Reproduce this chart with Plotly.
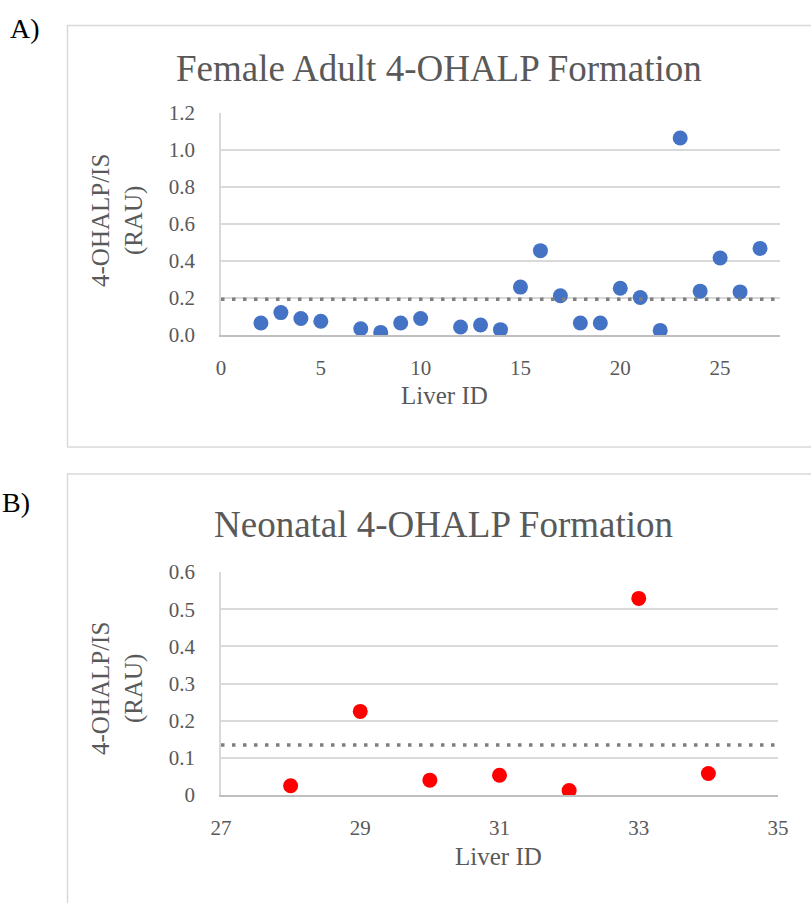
import plotly.graph_objects as go

# ---- data ----
adult_ids = [2, 3, 4, 5, 7, 8, 9, 10, 12, 13, 14, 15, 16, 17, 18, 19, 20, 21, 22, 23, 24, 25, 26, 27]
adult_vals = [0.065, 0.121, 0.089, 0.074, 0.034, 0.014, 0.065, 0.089, 0.043, 0.054, 0.029, 0.259,
              0.456, 0.212, 0.065, 0.065, 0.253, 0.203, 0.025, 1.065, 0.237, 0.416, 0.233, 0.468]

neo_ids = [28, 29, 30, 31, 32, 33, 34]
neo_vals = [0.025, 0.225, 0.040, 0.053, 0.012, 0.529, 0.058]

adult_xticks = [0, 5, 10, 15, 20, 25]
adult_yticks = [0.0, 0.2, 0.4, 0.6, 0.8, 1.0, 1.2]
neo_xticks = [27, 29, 31, 33, 35]
neo_yticks = [0, 0.1, 0.2, 0.3, 0.4, 0.5, 0.6]

adult_title = "Female Adult 4-OHALP Formation"
neo_title = "Neonatal 4-OHALP Formation"
x_title = "Liver ID"
y_title = "4-OHALP/IS<br>(RAU)"

adult_mean = sum(adult_vals) / len(adult_vals)
neo_mean = sum(neo_vals) / len(neo_vals)

# ---- page geometry (pixels) ----
W, H = 811, 903


def px(x):
    return x / W


def py(y):
    return 1 - y / H


FONT = "Liberation Serif, Times New Roman, serif"
GREY = "#595959"
GRID = "#d9d9d9"
AXLINE = "#bfbfbf"

fig = go.Figure()

# Female adult panel
fig.add_trace(go.Scatter(x=adult_ids, y=adult_vals, mode="markers",
                         marker=dict(color="#4472C4", size=15), xaxis="x", yaxis="y"))
fig.add_trace(go.Scatter(x=[0, 28], y=[adult_mean, adult_mean], mode="lines",
                         line=dict(color="#7f7f7f", width=3.5, dash="3.5px,7.5px"),
                         xaxis="x", yaxis="y"))

# Neonatal panel
fig.add_trace(go.Scatter(x=neo_ids, y=neo_vals, mode="markers",
                         marker=dict(color="#FF0000", size=15), xaxis="x2", yaxis="y2"))
fig.add_trace(go.Scatter(x=[27, 35], y=[neo_mean, neo_mean], mode="lines",
                         line=dict(color="#7f7f7f", width=3.5, dash="3.5px,7.5px"),
                         xaxis="x2", yaxis="y2"))

tickfont = dict(family=FONT, size=21, color=GREY)

common_x = dict(showgrid=False, zeroline=False, showline=True, linecolor=AXLINE, linewidth=1.5,
                ticks="", tickfont=tickfont, ticklabelstandoff=13, fixedrange=True,
                automargin=False)
common_y = dict(showgrid=True, gridcolor=GRID, gridwidth=1.5, zeroline=False, showline=True,
                linecolor=GRID, linewidth=1.5, ticks="", tickfont=tickfont,
                ticklabelstandoff=20, fixedrange=True, automargin=False)

fig.update_layout(
    template="none",
    width=W, height=H,
    margin=dict(l=0, r=0, t=0, b=0, pad=0, autoexpand=False),
    paper_bgcolor="white", plot_bgcolor="white",
    showlegend=False,
    xaxis=dict(domain=[px(221), px(780)], range=[0, 28], tickmode="array",
               tickvals=adult_xticks, anchor="y", **common_x),
    yaxis=dict(domain=[py(335), py(113)], range=[0, 1.2], tickmode="array",
               tickvals=adult_yticks, tickformat=".1f", anchor="x", **common_y),
    xaxis2=dict(domain=[px(221), px(778)], range=[27, 35], tickmode="array",
                tickvals=neo_xticks, anchor="y2", **common_x),
    yaxis2=dict(domain=[py(795), py(572)], range=[0, 0.6], tickmode="array",
                tickvals=neo_yticks, anchor="x2", **common_y),
)

# chart frames
for top, bottom in [(25.5, 447), (474, 920)]:
    fig.add_shape(type="rect", xref="paper", yref="paper",
                  x0=px(67.5), x1=px(820), y0=py(bottom), y1=py(top),
                  line=dict(color=GRID, width=1.5), layer="below")


def label(text, x, y, size, color=GREY, angle=0, xanchor="center"):
    fig.add_annotation(text=text, x=px(x), y=py(y), xref="paper", yref="paper",
                       showarrow=False, textangle=angle, xanchor=xanchor, yanchor="middle",
                       font=dict(family=FONT, size=size, color=color))


label("A)", 8, 28, 28, color="black", xanchor="left")
label("B)", 0, 502, 28, color="black", xanchor="left")

label(adult_title, 439, 69, 37)
label(neo_title, 443, 524, 37)

label(x_title, 444, 395, 25)
label(x_title, 498, 856, 25)

label(y_title, 117, 220, 25, angle=-90)
label(y_title, 117, 688, 25, angle=-90)

fig.write_html("out.html")
